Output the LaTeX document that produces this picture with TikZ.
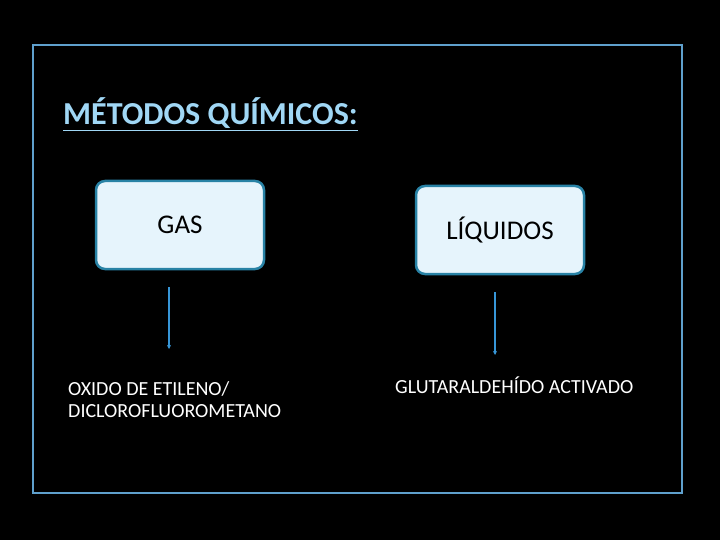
\documentclass[tikz,border=0pt]{standalone}
\usepackage{fontspec}
\setmainfont{Carlito}
\usetikzlibrary{arrows.meta}
\definecolor{framecol}{RGB}{95,160,205}
\definecolor{titlecol}{RGB}{160,215,245}
\definecolor{boxfill}{RGB}{230,244,252}
\definecolor{boxline}{RGB}{40,130,165}
\definecolor{arrowcol}{RGB}{55,150,215}
\tikzset{
  metodo/.style={draw=boxline, line width=2.5pt, fill=boxfill, rounded corners=9pt,
    minimum width=168pt, minimum height=88pt, font=\fontsize{27}{30}\selectfont},
  resultado/.style={text=white, align=left, anchor=base west, inner sep=0pt,
    font=\fontsize{20}{22}\selectfont},
  flecha/.style={draw=arrowcol, line width=1.2pt, -{Stealth[length=4pt,width=4pt]}}
}
\begin{document}
\begin{tikzpicture}[x=1pt, y=-1pt]
        \fill [black] (0, 0) rectangle (720, 540);
        \useasboundingbox (0, 0) rectangle (720, 540);
        \draw [framecol, line width=1.3pt] (33, 45) rectangle (682, 493);
        \node [anchor=base west, inner sep=0pt, text=titlecol, font=\fontsize{32}{35}\selectfont\bfseries] (titulo) at (63, 125) {\underline{MÉTODOS QUÍMICOS:}};

        \node [metodo] (gas) at (180, 225) {GAS};
        \node [metodo] (liquidos) at (500, 230) {LÍQUIDOS};

        \node [resultado] (oxido) at (68, 417) {OXIDO DE ETILENO/\\DICLOROFLUOROMETANO};
        \node [resultado] (gluta) at (395, 393) {GLUTARALDEHÍDO ACTIVADO};

        \coordinate (a1) at (169, 287);
        \coordinate (a2) at (169, 349);
        \coordinate (b1) at (495, 292);
        \coordinate (b2) at (495, 355);
        \draw [flecha] (a1) -- (a2);
        \draw [flecha] (b1) -- (b2);
      \end{tikzpicture}
\end{document}
